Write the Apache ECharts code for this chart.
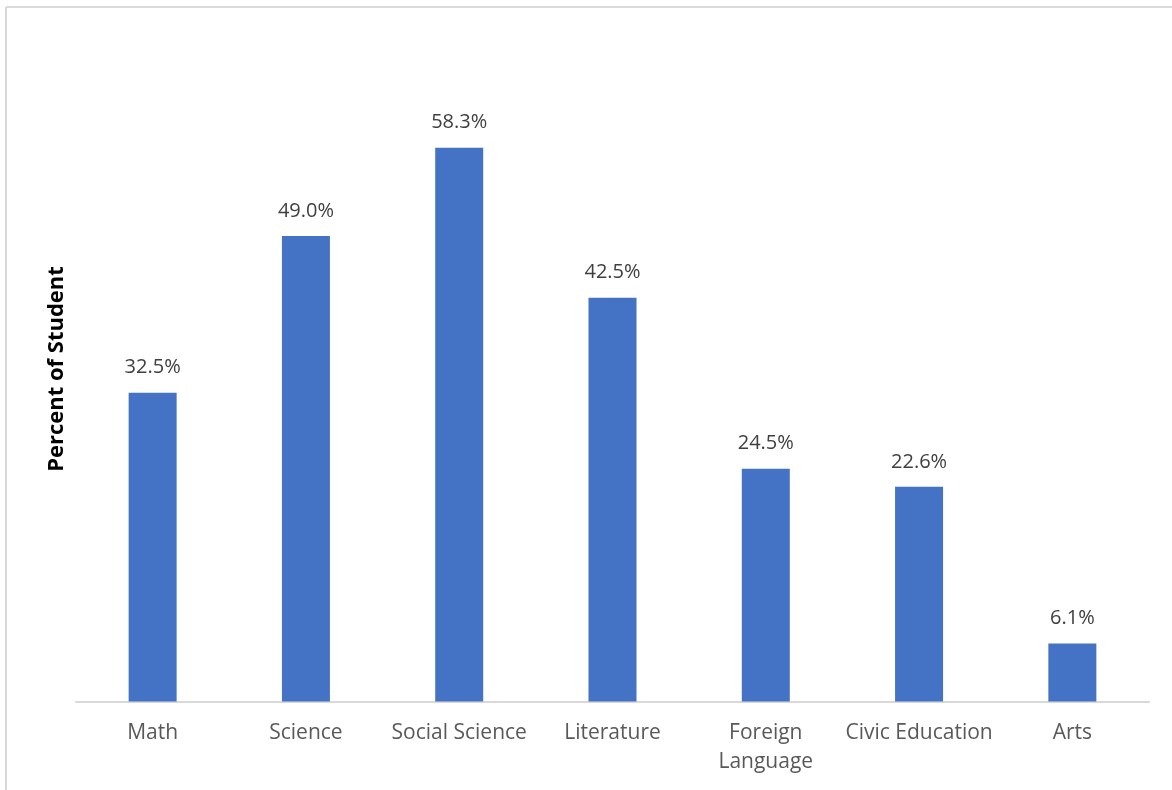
<!DOCTYPE html>
<html>
<head>
<meta charset="utf-8">
<script src="https://cdn.jsdelivr.net/npm/echarts@6/dist/echarts.min.js"></script>
<style>
html,body{margin:0;padding:0;background:#fff;}
#chart{width:1172px;height:790px;}
</style>
</head>
<body>
<div id="chart"></div>
<script>
const categories = ['Math', 'Science', 'Social Science', 'Literature', 'Foreign\nLanguage', 'Civic Education', 'Arts'];
const values = [32.5, 49.0, 58.3, 42.5, 24.5, 22.6, 6.1];
const yTitle = 'Percent of Student';

const chart = echarts.init(document.getElementById('chart'), null, {renderer: 'canvas'});
chart.setOption({
  animation: false,
  backgroundColor: '#ffffff',
  textStyle: {fontFamily: 'Open Sans'},
  graphic: [
    {type: 'line', shape: {x1: 6, y1: 7, x2: 1172, y2: 7}, style: {stroke: '#D9D9D9', lineWidth: 2}},
    {type: 'line', shape: {x1: 6, y1: 7, x2: 6, y2: 790}, style: {stroke: '#D9D9D9', lineWidth: 2}}
  ],
  grid: {left: 76, right: 23, top: 36.5, bottom: 88.5, containLabel: false},
  xAxis: {
    type: 'category',
    data: categories,
    axisLine: {lineStyle: {color: '#D9D9D9', width: 2}},
    axisTick: {show: false},
    axisLabel: {color: '#595959', fontSize: 21, fontFamily: 'Open Sans', margin: 17, lineHeight: 29, interval: 0}
  },
  yAxis: {
    type: 'value',
    min: 0, max: 70, interval: 10,
    name: yTitle,
    nameLocation: 'middle',
    nameGap: 8,
    nameRotate: 90,
    nameTextStyle: {color: '#000', fontSize: 22, fontWeight: 'bold', fontFamily: 'Open Sans'},
    axisLine: {show: false},
    axisTick: {show: false},
    axisLabel: {show: false},
    splitLine: {show: false}
  },
  series: [{
    type: 'bar',
    data: values,
    barWidth: 48,
    itemStyle: {color: '#4472C4'},
    label: {
      show: true,
      position: 'top',
      distance: 15,
      color: '#404040',
      fontSize: 20,
      fontFamily: 'Open Sans',
      formatter: p => p.value.toFixed(1) + '%'
    }
  }]
});
</script>
</body>
</html>
